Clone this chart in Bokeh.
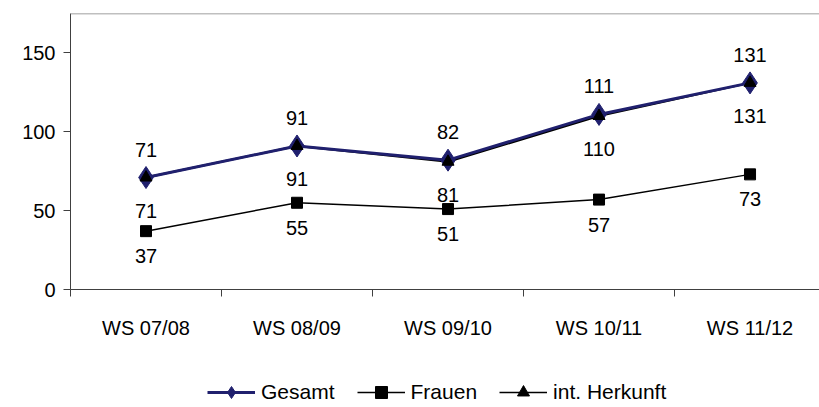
from bokeh.plotting import figure
from bokeh.layouts import column
from bokeh.models import (ColumnDataSource, LabelSet, Range1d, FixedTicker,
                          Legend, LegendItem, Span)
from bokeh.core.properties import value
from bokeh.embed import file_html
from bokeh.resources import INLINE

categories = ["WS 07/08", "WS 08/09", "WS 09/10", "WS 10/11", "WS 11/12"]
gesamt = [71, 91, 82, 111, 131]
frauen = [37, 55, 51, 57, 73]
herkunft = [71, 91, 81, 110, 131]
y_ticks = [0, 50, 100, 150]
series_names = ["Gesamt", "Frauen", "int. Herkunft"]
Y_MAX = 175

FONT = "Liberation Sans"
FS = "20px"
NAVY = "#20206E"

xpos = [i + 0.5 for i in range(len(categories))]
src = ColumnDataSource(dict(
    x=xpos, g=gesamt, f=frauen, h=herkunft,
    gl=[str(v) for v in gesamt], fl=[str(v) for v in frauen], hl=[str(v) for v in herkunft],
))

p = figure(width=819, height=377, output_backend="svg", toolbar_location=None,
           x_range=Range1d(0, 4.96), y_range=Range1d(0, Y_MAX),
           min_border_left=70, min_border_right=0, min_border_top=13, min_border_bottom=88)
p.grid.visible = False
p.outline_line_color = None
p.background_fill_color = "white"
p.border_fill_color = "white"
p.add_layout(Span(location=Y_MAX, dimension="width", line_color="#808080", line_width=1.5))

# x axis: labels at category centres, tick marks at boundaries (minor ticks)
p.xaxis.ticker = FixedTicker(ticks=xpos, minor_ticks=list(range(len(categories) + 1)))
p.xaxis.major_label_overrides = {x: c for x, c in zip(xpos, categories)}
p.xaxis.major_tick_out = 0
p.xaxis.major_tick_in = 0
p.xaxis.minor_tick_out = 7
p.xaxis.minor_tick_in = 0
p.xaxis.major_label_standoff = 20
p.xaxis.axis_line_color = "#404040"
p.xaxis.minor_tick_line_color = "#404040"

p.yaxis.ticker = FixedTicker(ticks=y_ticks, minor_ticks=[])
p.yaxis.major_tick_out = 7
p.yaxis.major_tick_in = 0
p.yaxis.minor_tick_line_color = None
p.yaxis.major_label_standoff = 8
p.yaxis.axis_line_color = "#404040"
p.yaxis.major_tick_line_color = "#404040"

for ax in (p.xaxis, p.yaxis):
    ax.major_label_text_font = FONT
    ax.major_label_text_font_size = FS
    ax.major_label_text_color = "black"

# Frauen
p.line("x", "f", source=src, line_color="black", line_width=1.5)
p.scatter("x", "f", source=src, marker="square", size=11, fill_color="black", line_color="black")
# Herkunft line under Gesamt line
p.line("x", "h", source=src, line_color="black", line_width=2)
p.line("x", "g", source=src, line_color=NAVY, line_width=3)
p.scatter("x", "g", source=src, marker="diamond", size=22, fill_color=NAVY, line_color=NAVY)
p.scatter("x", "h", source=src, marker="triangle", size=12, fill_color="black", line_color="black")

def labels(ycol, tcol, off):
    return LabelSet(x="x", y=ycol, text=tcol, source=src, y_offset=off,
                    text_align="center", text_baseline="middle",
                    text_font=value(FONT), text_font_size=value(FS), text_color="black")

p.add_layout(labels("g", "gl", 28))
p.add_layout(labels("h", "hl", -33))
p.add_layout(labels("f", "fl", -25))

# legend strip below the chart (legend-only renderers lie outside the visible range)
p2 = figure(width=819, height=30, output_backend="svg", toolbar_location=None,
            x_range=Range1d(0, 1), y_range=Range1d(0, 1),
            x_axis_location=None, y_axis_location=None,
            min_border_left=0, min_border_right=0, min_border_top=0, min_border_bottom=0)
p2.grid.visible = False
p2.outline_line_color = None
p2.background_fill_color = "white"
p2.border_fill_color = "white"
offsrc = ColumnDataSource(dict(x=[-10, -9], y=[-10, -10]))
l1 = p2.line("x", "y", source=offsrc, line_color=NAVY, line_width=3)
m1 = p2.scatter("x", "y", source=offsrc, marker="diamond", size=15, fill_color=NAVY, line_color=NAVY)
l2 = p2.line("x", "y", source=offsrc, line_color="black", line_width=1.5)
m2 = p2.scatter("x", "y", source=offsrc, marker="square", size=9, fill_color="black", line_color="black")
l3 = p2.line("x", "y", source=offsrc, line_color="black", line_width=1.5)
m3 = p2.scatter("x", "y", source=offsrc, marker="triangle", size=10, fill_color="black", line_color="black")

legend = Legend(items=[
    LegendItem(label=series_names[0], renderers=[l1, m1]),
    LegendItem(label=series_names[1], renderers=[l2, m2]),
    LegendItem(label=series_names[2], renderers=[l3, m3]),
], orientation="horizontal", location=(137, 0),
    label_text_font=FONT, label_text_font_size="21px", label_text_color="black",
    glyph_width=48, glyph_height=30, label_height=30, label_standoff=6, spacing=22,
    padding=0, margin=0, border_line_color=None, background_fill_alpha=0)
p2.add_layout(legend, "center")

layout = column(p, p2, spacing=0)
open("out.html", "w").write(file_html(layout, INLINE))
